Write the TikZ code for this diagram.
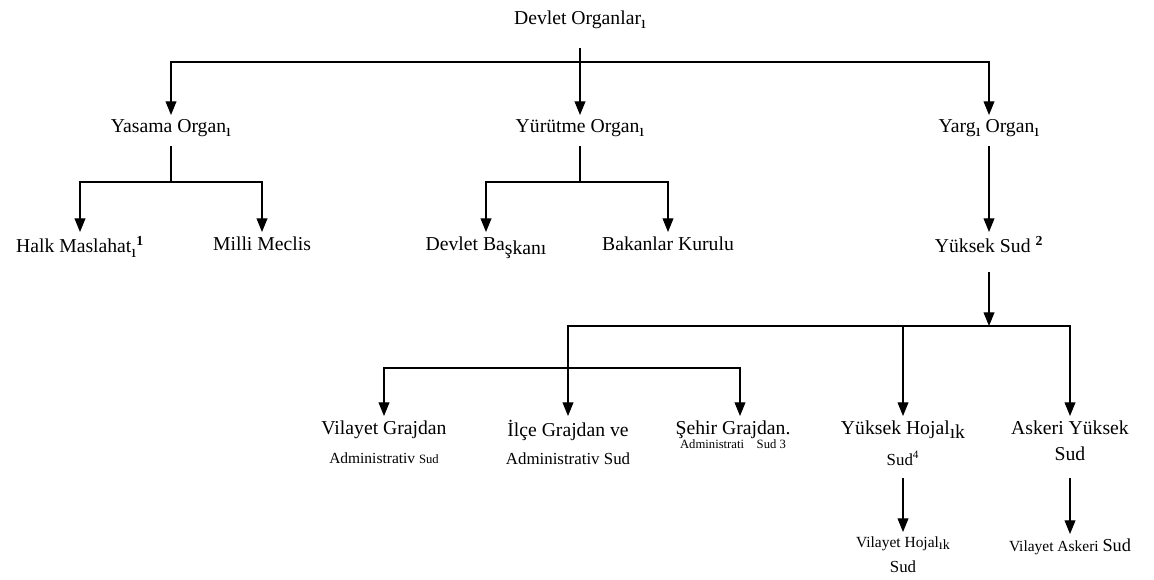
\documentclass[tikz,border=0pt]{standalone}
\usepackage{fontspec}
\setmainfont{Liberation Serif}
\usetikzlibrary{arrows.meta}
\newcommand{\subi}[1]{\raisebox{-3pt}{\fontsize{12.5}{12.5}\selectfont #1}}
\newcommand{\lowtxt}[1]{\raisebox{-3pt}{#1}}
\tikzset{
  org/.style={anchor=north, inner sep=3pt, align=center, font=\fontsize{14}{16}\selectfont},
  low/.style={anchor=north, inner sep=3pt, align=center, font=\fontsize{11}{13}\selectfont},
  link/.style={line width=0.8pt},
  arr/.style={line width=0.8pt, -{Triangle[length=3.4mm, width=2.7mm]}}
}

\begin{document}
\begin{tikzpicture}[x=0.025cm, y=-0.025cm]
\useasboundingbox (0,0) rectangle (1154,579);

\node[org, anchor=center] (devlet) at (580, 20) {Devlet Organlar\subi{ı}};

\node[org] (yasama)   at ( 171,115) {Yasama Organ\subi{ı}};
\node[org] (yurutme)  at ( 580,115) {Yürütme Organ\subi{ı}};
\node[org] (yargi)    at ( 989,115) {Yarg\subi{ı} Organ\subi{ı}};

\node[org] (halk)     at (  80,232) {Halk Maslahat\subi{ı}\textsuperscript{\textbf{1}}};
\node[org] (milli)    at ( 262,232) {Milli Meclis};
\node[org] (baskan)   at ( 486,232) {Devlet Ba\lowtxt{şkanı}};
\node[org] (bakanlar) at ( 668,232) {Bakanlar Kurulu};
\node[org] (yuksek)   at ( 989,232) {Yüksek Sud \textsuperscript{\textbf{2}}};

\node[org] (vilayet)  at ( 384,416) {Vilayet Grajdan\\[5pt]{\fontsize{11}{13}\selectfont Administrativ {\fontsize{9}{11}\selectfont Sud}}};
\node[org] (ilce)     at ( 568,416) {İlçe Grajdan ve\\[4pt]{\fontsize{12}{14}\selectfont Administrativ Sud}};
\node[org] (sehir)    at ( 733,416) {Şehir Grajdan.\\[-6pt]{\fontsize{9}{10}\selectfont Administrati\quad Sud 3}};
\node[org] (hojalik)  at ( 903,416) {Yüksek Hojal\lowtxt{ık}\\[6pt]{\fontsize{12}{14}\selectfont Sud\textsuperscript{4}}};
\node[org] (askeri)   at (1070,416) {Askeri Yüksek\\[3pt]Sud};

\node[low] (vhojalik) at ( 903,532) {Vilayet Hojal\raisebox{-1.5pt}{\fontsize{10}{10}\selectfont ık}\\[5pt]{\fontsize{12}{14}\selectfont Sud}};
\node[low] (vaskeri)  at (1070,534) {Vilayet Askeri {\fontsize{13}{15}\selectfont Sud}};

\coordinate (s0) at ( 580, 48);
\coordinate (b1) at ( 580, 62);
\draw[arr] (s0) -- (yurutme);
\draw[arr] (b1) -| (yasama);
\draw[arr] (b1) -| (yargi);

\coordinate (s1) at ( 171,146);
\coordinate (b2) at ( 171,182);
\draw[link] (s1) -- (b2);
\draw[arr] (b2) -| (halk);
\draw[arr] (b2) -| (milli);

\coordinate (s2) at ( 580,146);
\coordinate (b3) at ( 580,182);
\draw[link] (s2) -- (b3);
\draw[arr] (b3) -| (baskan);
\draw[arr] (b3) -| (bakanlar);

\coordinate (s3) at ( 989,146);
\draw[arr] (s3) -- (yuksek);

\coordinate (s4) at ( 989,272);
\coordinate (b4) at ( 989,326);
\draw[arr] (s4) -- (b4);
\draw[arr] (b4) -| (ilce);
\draw[arr] (b4) -| (askeri);
\draw[arr] (b4 -| hojalik) -- (hojalik);

\coordinate (b5)  at ( 568,368);
\coordinate (b5e) at ( 740,368);
\draw[arr] (b5) -| (vilayet);
\draw[arr] (b5) -- (b5e) -- (b5e |- sehir.north);

\coordinate (s5) at ( 903,478);
\coordinate (s6) at (1070,478);
\draw[arr] (s5) -- (vhojalik);
\draw[arr] (s6) -- (vaskeri);
\end{tikzpicture}
\end{document}
